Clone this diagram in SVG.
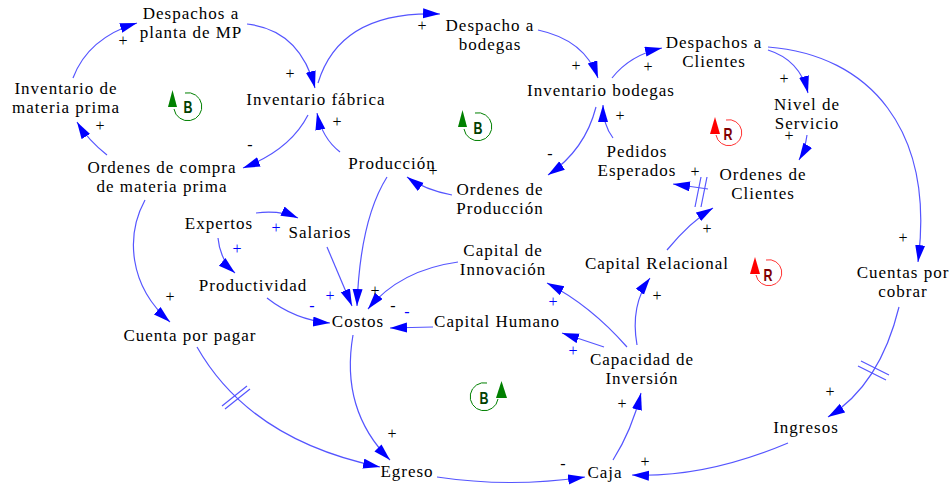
<svg xmlns="http://www.w3.org/2000/svg" width="951" height="487" viewBox="0 0 951 487">
<style>
.t{font-family:"Liberation Serif","Times New Roman",serif;font-size:17px;letter-spacing:1px;fill:#000;text-anchor:middle}
.s{font-family:"Liberation Serif","Times New Roman",serif;font-size:16px;fill:#000;text-anchor:middle}
.sb{fill:#0000ff}
.c{fill:none;stroke:#5555ff;stroke-width:1.2;marker-end:url(#ah)}
.d{fill:none;stroke:#5555ff;stroke-width:1.2}
.lb{font-family:"Liberation Sans",Arial,sans-serif;font-weight:bold;font-size:17px;text-anchor:middle}
</style>
<defs>
<marker id="ah" markerUnits="userSpaceOnUse" markerWidth="20" markerHeight="12" refX="17" refY="5" orient="auto">
<path d="M0,0 L17,5 L0,10 z" fill="#0000ff"/>
</marker>
</defs>
<rect width="951" height="487" fill="#fff"/>

<g id="connectors">
<path class="c" d="M73,78 Q88,38 137,23"/>
<path class="c" d="M247,24 Q300,30 315,88"/>
<path class="c" d="M308,115 Q290,150 243,168"/>
<path class="c" d="M107,155 Q88,140 77,122"/>
<path class="c" d="M318,83 Q340,10 440,14"/>
<path class="c" d="M538,30 Q585,40 598,78"/>
<path class="c" d="M340,152 Q322,138 317,113"/>
<path class="c" d="M452,195 Q425,190 407,177"/>
<path class="c" d="M596,107 Q585,150 548,175"/>
<path class="c" d="M613,138 Q603,125 603,105"/>
<path class="c" d="M612,78 Q630,55 662,48"/>
<path class="c" d="M768,50 Q800,60 808,93"/>
<path class="c" d="M807,135 Q805,150 799,160"/>
<path class="c" d="M708,189 L673,184"/>
<path class="d" d="M701,177 L695,207 M707,177 L701,207"/>
<path class="c" d="M667,250 Q690,222 713,208"/>
<path class="c" d="M768,47 C870,55 935,130 918,262"/>
<path class="c" d="M899,307 Q880,385 828,417"/>
<path class="d" d="M861,361 L889,375 M858,366 L886,380"/>
<path class="c" d="M788,443 Q705,478 632,475"/>
<path class="c" d="M437,477 Q510,488 585,477"/>
<path class="c" d="M613,460 Q632,430 641,393"/>
<path class="c" d="M604,347 L562,333"/>
<path class="c" d="M627,347 Q590,305 547,283"/>
<path class="c" d="M637,345 Q630,305 650,278"/>
<path class="c" d="M433,327 L390,328"/>
<path class="c" d="M458,262 Q400,270 368,309"/>
<path class="c" d="M387,177 Q360,220 357,306"/>
<path class="c" d="M327,247 L352,306"/>
<path class="c" d="M267,298 Q295,320 330,323"/>
<path class="c" d="M256,213 Q280,210 298,218"/>
<path class="c" d="M218,238 Q220,260 235,273"/>
<path class="c" d="M145,200 C126,235 128,285 170,322"/>
<path class="c" d="M197,347 Q250,440 380,467"/>
<path class="d" d="M222,406 L247,386 M225,409 L250,389"/>
<path class="c" d="M353,335 Q340,410 390,460"/>
</g>

<g id="signs">
<text class="s" x="123" y="46">+</text>
<text class="s" x="290" y="79">+</text>
<text class="s" x="250" y="150">-</text>
<text class="s" x="100" y="131">+</text>
<text class="s" x="422" y="31">+</text>
<text class="s" x="576" y="71">+</text>
<text class="s" x="337" y="127">+</text>
<text class="s" x="433" y="176">+</text>
<text class="s" x="550" y="159">-</text>
<text class="s" x="620" y="121">+</text>
<text class="s" x="648" y="72">+</text>
<text class="s" x="784" y="84">+</text>
<text class="s" x="789" y="141">+</text>
<text class="s" x="695" y="177">+</text>
<text class="s" x="707" y="234">+</text>
<text class="s" x="903" y="243">+</text>
<text class="s" x="830" y="397">+</text>
<text class="s" x="645" y="467">+</text>
<text class="s" x="563" y="469">-</text>
<text class="s" x="622" y="409">+</text>
<text class="s" x="657" y="301">+</text>
<text class="s" x="375" y="296">+</text>
<text class="s" x="393" y="311">-</text>
<text class="s" x="392" y="439">+</text>
<text class="s" x="170" y="302">+</text>
<text class="s sb" x="276" y="233">+</text>
<text class="s sb" x="237" y="254">+</text>
<text class="s sb" x="330" y="301">+</text>
<text class="s sb" x="312" y="311">-</text>
<text class="s sb" x="407" y="317">-</text>
<text class="s sb" x="573" y="356">+</text>
<text class="s sb" x="553" y="307">+</text>
</g>

<g id="loops">
<g id="loop-b1">
<path d="M185,93 A14,14 0 1,1 174,109" fill="none" stroke="#008000" stroke-width="1"/>
<path d="M168,107 L172.5,90 L177,107 Z" fill="#008000"/>
<text class="lb" x="188" y="113" fill="#004000" textLength="9" lengthAdjust="spacingAndGlyphs">B</text>
</g>
<g id="loop-b2">
<path d="M475,113 A14,14 0 1,1 464,129" fill="none" stroke="#008000" stroke-width="1"/>
<path d="M458,127 L462.5,110 L467,127 Z" fill="#008000"/>
<text class="lb" x="478" y="134" fill="#004000" textLength="9" lengthAdjust="spacingAndGlyphs">B</text>
</g>
<g id="loop-b3">
<path d="M487,383 A14,14 0 1,0 498,399" fill="none" stroke="#008000" stroke-width="1"/>
<path d="M496,398 L501.5,381 L507,398 Z" fill="#008000"/>
<text class="lb" x="484" y="404" fill="#004000" textLength="9" lengthAdjust="spacingAndGlyphs">B</text>
</g>
<g id="loop-r1">
<path d="M726,120 A13,13 0 1,1 716,135" fill="none" stroke="#ff3333" stroke-width="1"/>
<path d="M710,134 L715,117 L720,134 Z" fill="#ff0000"/>
<text class="lb" x="728" y="140" fill="#800000" textLength="9" lengthAdjust="spacingAndGlyphs">R</text>
</g>
<g id="loop-r2">
<path d="M766,260 A13,13 0 1,1 756,275" fill="none" stroke="#ff3333" stroke-width="1"/>
<path d="M750,274 L755,257 L760,274 Z" fill="#ff0000"/>
<text class="lb" x="768" y="281" fill="#800000" textLength="9" lengthAdjust="spacingAndGlyphs">R</text>
</g>
</g>

<g id="n-despachos-mp"><text class="t" x="191" y="19">Despachos a</text><text class="t" x="191" y="38">planta de MP</text></g>
<g id="n-inv-mp"><text class="t" x="66" y="94">Inventario de</text><text class="t" x="66" y="113">materia prima</text></g>
<g id="n-inv-fabrica"><text class="t" x="316" y="105">Inventario fábrica</text></g>
<g id="n-ordenes-compra"><text class="t" x="162" y="173">Ordenes de compra</text><text class="t" x="162" y="192">de materia prima</text></g>
<g id="n-despacho-bodegas"><text class="t" x="490" y="31">Despacho a</text><text class="t" x="490" y="50">bodegas</text></g>
<g id="n-inv-bodegas"><text class="t" x="601" y="96">Inventario bodegas</text></g>
<g id="n-despachos-clientes"><text class="t" x="714" y="48">Despachos a</text><text class="t" x="714" y="67">Clientes</text></g>
<g id="n-nivel-servicio"><text class="t" x="807" y="110">Nivel de</text><text class="t" x="807" y="129">Servicio</text></g>
<g id="n-ordenes-clientes"><text class="t" x="763" y="180">Ordenes de</text><text class="t" x="763" y="199">Clientes</text></g>
<g id="n-pedidos"><text class="t" x="637" y="157">Pedidos</text><text class="t" x="637" y="176">Esperados</text></g>
<g id="n-produccion"><text class="t" x="392" y="169">Producción</text></g>
<g id="n-ordenes-produccion"><text class="t" x="500" y="195">Ordenes de</text><text class="t" x="500" y="214">Producción</text></g>
<g id="n-expertos"><text class="t" x="219" y="229">Expertos</text></g>
<g id="n-salarios"><text class="t" x="320" y="238">Salarios</text></g>
<g id="n-productividad"><text class="t" x="253" y="291">Productividad</text></g>
<g id="n-costos"><text class="t" x="358" y="327">Costos</text></g>
<g id="n-cuenta-pagar"><text class="t" x="190" y="341">Cuenta por pagar</text></g>
<g id="n-capital-innovacion"><text class="t" x="503" y="256">Capital de</text><text class="t" x="503" y="275">Innovación</text></g>
<g id="n-capital-relacional"><text class="t" x="657" y="269">Capital Relacional</text></g>
<g id="n-capital-humano"><text class="t" x="497" y="327">Capital Humano</text></g>
<g id="n-capacidad"><text class="t" x="642" y="365">Capacidad de</text><text class="t" x="642" y="384">Inversión</text></g>
<g id="n-cuentas-cobrar"><text class="t" x="903" y="278">Cuentas por</text><text class="t" x="903" y="297">cobrar</text></g>
<g id="n-ingresos"><text class="t" x="806" y="433">Ingresos</text></g>
<g id="n-egreso"><text class="t" x="407" y="477">Egreso</text></g>
<g id="n-caja"><text class="t" x="605" y="478">Caja</text></g>
</svg>
